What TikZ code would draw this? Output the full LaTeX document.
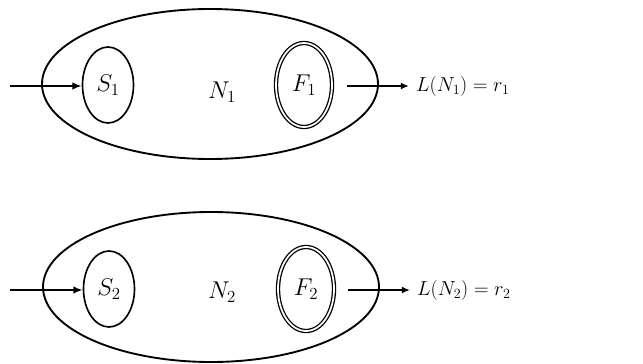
\documentclass[tikz,border=0pt]{standalone}
\usetikzlibrary{arrows.meta,shapes.geometric}
\begin{document}
\begin{tikzpicture}[x=0.03cm,y=-0.03cm,
  machine/.style={draw,ellipse,line width=1.6pt,minimum width=336*0.03cm,minimum height=150*0.03cm,inner sep=0pt},
  start/.style={draw,ellipse,line width=1.4pt,minimum width=51*0.03cm,minimum height=76*0.03cm,inner sep=0pt,font=\fontsize{21}{23}\selectfont},
  final/.style={draw,ellipse,line width=1.1pt,double,double distance=1.5pt,minimum width=56*0.03cm,minimum height=84*0.03cm,inner sep=0pt,font=\fontsize{21}{23}\selectfont},
  lbl/.style={font=\fontsize{20}{22}\selectfont,inner sep=0pt},
  result/.style={font=\fontsize{17.5}{20}\selectfont,inner sep=0pt,anchor=west},
  flow/.style={line width=2pt,-{Latex[length=8pt,width=6.5pt]}},
  outflow/.style={line width=1.5pt,-{Latex[length=7pt,width=6pt]}}]
\useasboundingbox (0,0) rectangle (643,363);
% top machine
\node[machine] (M1) at (210,84) {};
\node[start] (S1) at (108,85) {$S_1$};
\node[final] (F1) at (304,85) {$F_1$};
\node[lbl] (N1) at (222,92) {$N_1$};
\coordinate (in1) at (10,86);
\coordinate (o1) at (347,86);
\node[result] (L1) at (416,86) {$L(N_1) = r_1$};
\draw[flow] (in1) -- (S1.west |- in1);
\draw[outflow,shorten >=6pt] (o1) -- (L1.west);
% bottom machine
\node[machine] (M2) at (211,287) {};
\node[start] (S2) at (109,289) {$S_2$};
\node[final] (F2) at (306,289) {$F_2$};
\node[lbl] (N2) at (222,292) {$N_2$};
\coordinate (in2) at (10,290);
\coordinate (o2) at (348,290);
\node[result] (L2) at (417,290) {$L(N_2) = r_2$};
\draw[flow] (in2) -- (S2.west |- in2);
\draw[outflow,shorten >=6pt] (o2) -- (L2.west);
\end{tikzpicture}
\end{document}
